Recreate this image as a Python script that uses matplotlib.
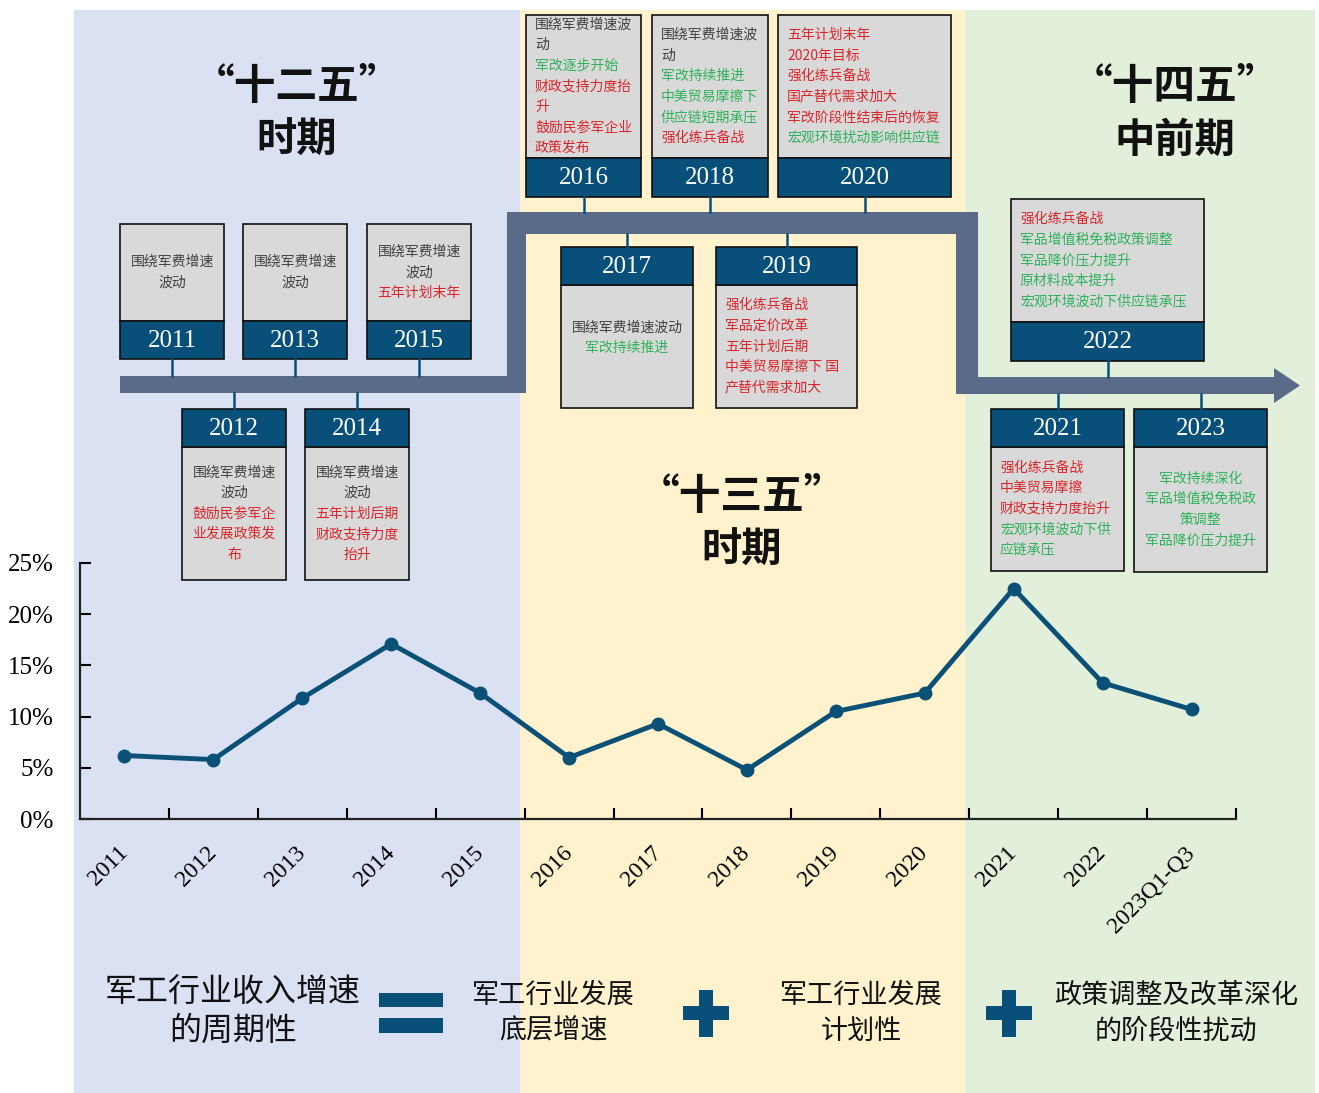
import matplotlib.pyplot as plt
from matplotlib.patches import Rectangle, Polygon
import numpy as np

plt.rcParams['font.family'] = ['Noto Sans CJK SC', 'DejaVu Sans']

# line chart data: military industry revenue growth (%)
years = ['2011', '2012', '2013', '2014', '2015', '2016', '2017', '2018',
         '2019', '2020', '2021', '2022', '2023Q1-Q3']
growth = [6.2, 5.8, 11.8, 17.1, 12.3, 6.0, 9.3, 4.8, 10.5, 12.3, 22.5, 13.3, 10.7]
yticks = [0, 5, 10, 15, 20, 25]

K, R, G = '#404040', '#d7262b', '#2eb25a'

notes_2011 = [('围绕军费增速', K), ('波动', K)]
notes_2012 = [('围绕军费增速', K), ('波动', K), ('鼓励民参军企', R), ('业发展政策发', R), ('布', R)]
notes_2013 = [('围绕军费增速', K), ('波动', K)]
notes_2014 = [('围绕军费增速', K), ('波动', K), ('五年计划后期', R), ('财政支持力度', R), ('抬升', R)]
notes_2015 = [('围绕军费增速', K), ('波动', K), ('五年计划末年', R)]
notes_2016 = [('围绕军费增速波', K), ('动', K), ('军改逐步开始', G), ('财政支持力度抬', R),
              ('升', R), ('鼓励民参军企业', R), ('政策发布', R)]
notes_2017 = [('围绕军费增速波动', K), ('军改持续推进', G)]
notes_2018 = [('围绕军费增速波', K), ('动', K), ('军改持续推进', G), ('中美贸易摩擦下', G),
              ('供应链短期承压', G), ('强化练兵备战', R)]
notes_2019 = [('强化练兵备战', R), ('军品定价改革', R), ('五年计划后期', R),
              ('中美贸易摩擦下 国', R), ('产替代需求加大', R)]
notes_2020 = [('五年计划末年', R), ('2020年目标', R), ('强化练兵备战', R), ('国产替代需求加大', R),
              ('军改阶段性结束后的恢复', R), ('宏观环境扰动影响供应链', G)]
notes_2021 = [('强化练兵备战', R), ('中美贸易摩擦', R), ('财政支持力度抬升', R),
              ('宏观环境波动下供', G), ('应链承压', G)]
notes_2022 = [('强化练兵备战', R), ('军品增值税免税政策调整', G), ('军品降价压力提升', G),
              ('原材料成本提升', G), ('宏观环境波动下供应链承压', G)]
notes_2023 = [('军改持续深化', G), ('军品增值税免税政', G), ('策调整', G), ('军品降价压力提升', G)]

HEAD = '#08507a'
LINE = '#0b5077'
SERIF = 'Liberation Serif'

fig = plt.figure(figsize=(13.19, 10.93), dpi=100)
bg = fig.add_axes([0, 0, 1, 1])
bg.set_xlim(0, 1319)
bg.set_ylim(1093, 0)
bg.axis('off')

# period bands
for x0, x1, c in [(74, 520, '#dae1f3'), (520, 965, '#fff2cc'), (965, 1315, '#e2efda')]:
    bg.add_patch(Rectangle((x0, 10), x1 - x0, 1083, color=c, lw=0))

# stepped timeline arrow
arrow = [(120, 376), (507, 376), (507, 212), (978, 212), (978, 377), (1274, 377),
         (1274, 368), (1300, 385.5), (1274, 403), (1274, 394), (956, 394), (956, 234),
         (526, 234), (526, 393), (120, 393)]
bg.add_patch(Polygon(arrow, closed=True, fc='#596b89', ec='none'))


def note_box(x0, x1, gray, head, year, lines, align, link, dy=0):
    bg.add_patch(Rectangle((x0, gray[0]), x1 - x0, gray[1] - gray[0],
                           fc='#d9d9d9', ec='#111111', lw=1.2))
    bg.add_patch(Rectangle((x0, head[0]), x1 - x0, head[1] - head[0],
                           fc=HEAD, ec='#111111', lw=1.2))
    bg.text((x0 + x1) / 2, (head[0] + head[1]) / 2 + 1, year, color='white',
            family=SERIF, fontsize=18, ha='center', va='center')
    xc = (x0 + x1) / 2
    bg.plot([xc, xc], link, color=HEAD, lw=1.8)
    cy = (gray[0] + gray[1]) / 2 + dy
    n = len(lines)
    for i, (t, c) in enumerate(lines):
        y = cy + (i - (n - 1) / 2) * 20.6
        if align == 'left':
            bg.text(x0 + 9, y, t, color=c, fontsize=10, ha='left', va='center')
        else:
            bg.text(xc, y, t, color=c, fontsize=10, ha='center', va='center')


note_box(120, 224, (224, 321), (321, 359), '2011', notes_2011, 'center', (359, 376))
note_box(243, 347, (224, 321), (321, 359), '2013', notes_2013, 'center', (359, 376))
note_box(367, 471, (224, 321), (321, 359), '2015', notes_2015, 'center', (359, 376))
note_box(182, 286, (447, 580), (409, 447), '2012', notes_2012, 'center', (393, 409))
note_box(305, 409, (447, 580), (409, 447), '2014', notes_2014, 'center', (393, 409))
note_box(526, 641, (15, 158), (158, 197), '2016', notes_2016, 'left', (197, 212))
note_box(652, 768, (15, 158), (158, 197), '2018', notes_2018, 'left', (197, 212))
note_box(778, 951, (15, 158), (158, 197), '2020', notes_2020, 'left', (197, 212))
note_box(561, 693, (285, 408), (247, 285), '2017', notes_2017, 'center', (234, 247), dy=-9)
note_box(716, 857, (285, 408), (247, 285), '2019', notes_2019, 'left', (234, 247))
note_box(1011, 1204, (199, 322), (322, 361), '2022', notes_2022, 'left', (361, 377))
note_box(991, 1124, (447, 571), (409, 447), '2021', notes_2021, 'left', (394, 409))
note_box(1134, 1267, (447, 572), (409, 447), '2023', notes_2023, 'center', (394, 409))

# period titles
for x, y, t1, t2 in [(297, 87, '“十二五”', '时期'), (742, 497, '“十三五”', '时期'),
                     (1175, 87, '“十四五”', '中前期')]:
    bg.text(x, y, t1, fontsize=30, fontweight='bold', ha='center', va='center', color='#111111')
    bg.text(x, y + 53, t2, fontsize=29, fontweight='bold', ha='center', va='center', color='#111111')

# formula at the bottom
bg.text(233, 993, '军工行业收入增速', fontsize=23, ha='center', va='center', color='#111111')
bg.text(233, 1031, '的周期性', fontsize=23, ha='center', va='center', color='#111111')
bg.add_patch(Rectangle((379, 993), 64, 14, color=HEAD, lw=0))
bg.add_patch(Rectangle((379, 1018), 64, 15, color=HEAD, lw=0))
for cx in (706, 1009):
    bg.add_patch(Rectangle((cx - 7, 990), 14, 47, color=HEAD, lw=0))
    bg.add_patch(Rectangle((cx - 23, 1006), 46, 14, color=HEAD, lw=0))
for x, t1, t2 in [(553, '军工行业发展', '底层增速'), (861, '军工行业发展', '计划性'),
                  (1176, '政策调整及改革深化', '的阶段性扰动')]:
    bg.text(x, 995, t1, fontsize=19.5, ha='center', va='center', color='#111111')
    bg.text(x, 1031, t2, fontsize=19.5, ha='center', va='center', color='#111111')

# line chart
ax = fig.add_axes([80 / 1319, 1 - 819 / 1093, 1156 / 1319, 256 / 1093])
ax.patch.set_alpha(0)
x = np.arange(len(years))
ax.plot(x, growth, color=LINE, lw=3.5, marker='o', ms=9, clip_on=False)
ax.set_xlim(-0.5, len(years) - 0.5)
ax.set_ylim(0, 25)
ax.set_yticks(yticks)
ax.set_yticklabels([f'{v}%' for v in yticks], family=SERIF, fontsize=18)
ax.set_xticks(x)
ax.set_xticklabels(years, family=SERIF, fontsize=17, rotation=45,
                   ha='right', va='center', rotation_mode='anchor')
ax.set_xticks(np.arange(0.5, len(years), 1), minor=True)
ax.tick_params(axis='x', which='major', length=0, pad=22)
ax.tick_params(axis='x', which='minor', direction='in', length=8, width=1.5)
ax.tick_params(axis='y', direction='in', length=8, width=1.5, pad=19)
for s in ('top', 'right'):
    ax.spines[s].set_visible(False)
for s in ('left', 'bottom'):
    ax.spines[s].set_linewidth(1.6)
    ax.spines[s].set_color('#222222')

fig.savefig('out.png', dpi=100)
